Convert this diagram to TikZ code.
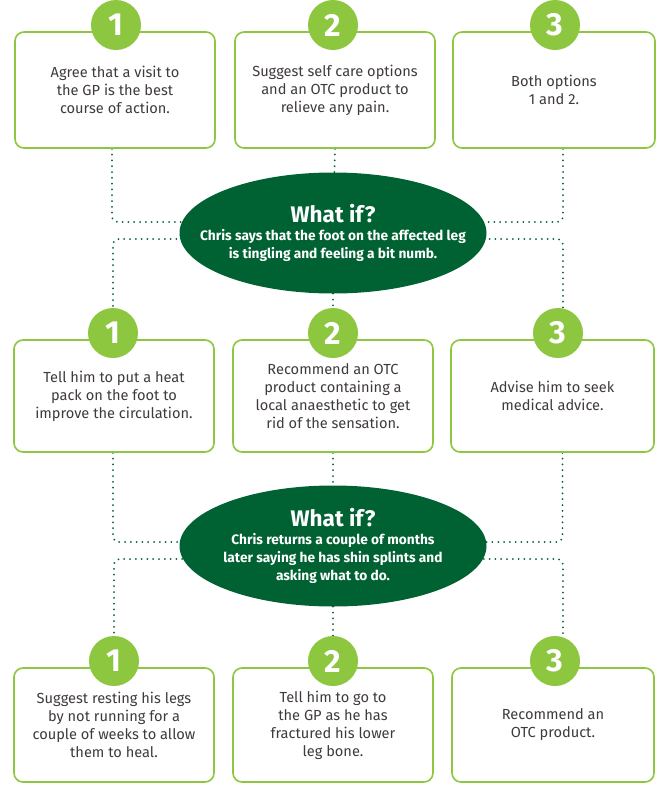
\documentclass[tikz,border=0pt]{standalone}
\usepackage{fontspec}
\setmainfont{Fira Sans}
\usetikzlibrary{shapes.geometric,backgrounds}
\definecolor{lime}{RGB}{141,198,63}
\definecolor{forest}{RGB}{0,98,51}
\definecolor{ink}{RGB}{64,58,60}
\newcommand{\whatif}{{\fontsize{22.5}{24}\selectfont What if?}\\[0pt]}

\begin{document}
\begin{tikzpicture}[x=1pt, y=-1pt,
  box/.style={rectangle, draw=lime, fill=white, line width=1.6pt, rounded corners=9pt,
    minimum width=200pt, minimum height=114pt, align=center, text=ink,
    font=\fontsize{14.6}{18}\selectfont},
  num/.style={circle, fill=lime, minimum size=50pt, inner sep=0pt, text=white,
    font=\bfseries\fontsize{32}{32}\selectfont},
  whatif/.style={ellipse, fill=forest, minimum width=307pt, minimum height=121pt,
    inner xsep=-60pt, inner ysep=-30pt, align=center, text=white,
    font=\bfseries\fontsize{13.7}{18}\selectfont},
  link/.style={draw=forest, line width=2pt, line cap=round,
    dash pattern=on 0pt off 5.8pt, rounded corners=6pt}]
  \useasboundingbox (0,0) rectangle (666,785);

  % First choices
  \node[box, minimum height=116pt] (b11) at (115,90) {Agree that a visit to\\the GP is the best\\course of action.};
  \node[box, minimum height=116pt] (b12) at (335,90) {Suggest self care options\\and an OTC product to\\relieve any pain.};
  \node[box, minimum height=116pt, minimum width=202pt] (b13) at (554,90) {Both options\\1 and 2.};
  \node[num] (c11) at (116,25) {1};
  \node[num] (c12) at (333,25) {2};
  \node[num] (c13) at (555,25) {3};

  % What if? (1)
  \node[whatif] (w1) at (333,233) {\whatif Chris says that the foot on the affected leg\\is tingling and feeling a bit numb.};

  % Second choices
  \node[box, minimum height=112pt] (b21) at (114,396) {Tell him to put a heat\\pack on the foot to\\improve the circulation.};
  \node[box, minimum height=112pt] (b22) at (333,396) {Recommend an OTC\\product containing a\\local anaesthetic to get\\rid of the sensation.};
  \node[box, minimum height=112pt, minimum width=203pt] (b23) at (552.5,396) {Advise him to seek\\medical advice.};
  \node[num] (c21) at (113,333) {1};
  \node[num] (c22) at (333,333) {2};
  \node[num] (c23) at (558,333) {3};

  % What if? (2)
  \node[whatif] (w2) at (333,546) {\whatif Chris returns a couple of months\\later saying he has shin splints and\\asking what to do.};

  % Third choices
  \node[box] (b31) at (114,725) {Suggest resting his legs\\by not running for a\\couple of weeks to allow\\them to heal.};
  \node[box] (b32) at (333,725) {Tell him to go to\\the GP as he has\\fractured his lower\\leg bone.};
  \node[box, minimum width=202pt] (b33) at (553,725) {Recommend an\\OTC product.};
  \node[num] (c31) at (114,661) {1};
  \node[num] (c32) at (333,661) {2};
  \node[num] (c33) at (555,661) {3};

  % dotted links behind the nodes
  \begin{pgfonlayer}{background}
    \draw[link] ([xshift=-3pt]b11.south) |- ([yshift=11pt]w1.center);
    \draw[link] ([yshift=-6pt]w1.center) -| (c21);
    \draw[link] (b12.south) -- (w1);
    \draw[link] (w1) -- (c22);
    \draw[link] ([xshift=9pt]b13.south) |- ([yshift=11pt]w1.center);
    \draw[link] ([yshift=-6pt]w1.center) -| ([xshift=5pt]c23.center);

    \draw[link] ([xshift=-1pt]b21.south) |- ([yshift=4pt]w2.center);
    \draw[link] ([yshift=-13pt]w2.center) -| (c31);
    \draw[link] (b22.south) -- (w2);
    \draw[link] (w2) -- (c32);
    \draw[link] ([xshift=10pt]b23.south) |- ([yshift=4pt]w2.center);
    \draw[link] ([yshift=-13pt]w2.center) -| ([xshift=8pt]c33.center);
  \end{pgfonlayer}
\end{tikzpicture}
\end{document}
